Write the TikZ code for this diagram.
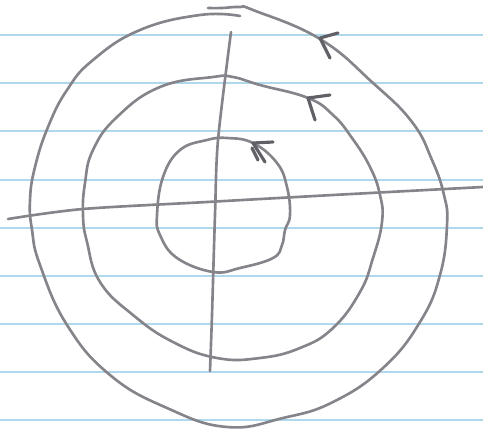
\documentclass[tikz,border=0pt]{standalone}
\definecolor{Pencil}{RGB}{132,132,138}
\definecolor{PencilDark}{RGB}{96,96,102}
\definecolor{Ruling}{RGB}{176,216,236}
\usepackage{tikz}

\begin{document}
\begin{tikzpicture}[x=0.02cm, y=-0.02cm,
    pencil/.style={draw=Pencil, line width=1.5pt, line cap=round, line join=round},
    barb/.style={draw=PencilDark, line width=1.8pt, line cap=round, line join=round},
    ruling/.style={draw=Ruling, line width=0.6pt}]
    \useasboundingbox (0,0) rectangle (483,429);
    \foreach \y in {35,83,131,180,228,276,324,372,420}
        \draw[ruling] (0,\y) -- (483,\y);
    \draw[pencil] plot[smooth] coordinates {(8,219) (83,209) (207,202) (333,195) (483,187)};
    \draw[pencil] plot[smooth] coordinates {(231,32) (218,140) (215,215) (212,315) (210,371)};
    \draw[pencil] plot[smooth cycle, tension=0.7] coordinates {(227,138) (253,143) (277,163) (287,187) (290,215) (285,230) (282,245) (273,258) (240,268) (213,272) (177,258) (160,235) (157,215) (163,177) (180,150) (207,140)};
    \draw[pencil] plot[smooth cycle, tension=0.75] coordinates {(233,77) (260,85) (308,98) (333,115) (352,138) (370,167) (380,195) (382,222) (373,258) (360,292) (333,328) (300,348) (260,358) (217,358) (173,342) (133,315) (100,282) (87,242) (83,215) (85,183) (93,150) (117,117) (160,87) (213,77)};
    \draw[pencil] plot[smooth, tension=0.75] coordinates {(240,16) (200,15) (140,30) (93,60) (67,90) (48,127) (35,167) (30,200) (32,230) (40,265) (67,325) (110,375) (167,408) (227,427) (283,418) (333,402) (383,368) (420,322) (440,275) (447,225) (444,195) (432,160) (412,122) (373,83) (320,39) (253,10) (240,7) (222,8) (208,8)};
    \draw[barb] (330,58) -- (320,38) -- (338,33);
    \draw[barb] (315,120) -- (308,98) -- (330,95);
    \draw[barb] (265,162) -- (253,143) -- (273,142);
    \draw[barb] (258,160) -- (252,148);
\end{tikzpicture}
\end{document}
